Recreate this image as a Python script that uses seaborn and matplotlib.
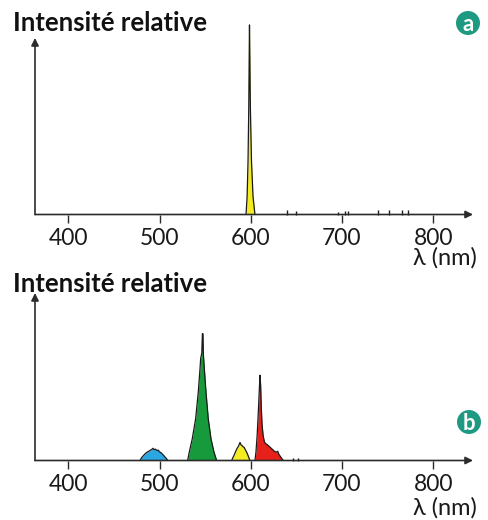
import numpy as np
import pandas as pd
import matplotlib
matplotlib.use("Agg")
import matplotlib.pyplot as plt
from matplotlib.patches import Circle
import seaborn as sns

sns.set_theme(style="white")
plt.rcParams['font.family'] = ['Lato', 'DejaVu Sans']

# ---------------- data ----------------
tick_values = [400, 500, 600, 700, 800]
tick_labels = ["400", "500", "600", "700", "800"]

# spectrum a : single narrow line + weak lines
a_nm = [594.8, 596.0, 597.0, 597.8, 598.3, 598.6, 599.0, 599.6, 600.8, 602.5, 604.6]
a_int = [0.0, 0.10, 0.30, 0.60, 0.90, 1.074, 0.90, 0.60, 0.30, 0.10, 0.0]
a_weak_nm = [639.7, 649.5, 695.6, 703.2, 706.5, 739.4, 751.5, 765.7, 772.3]
a_weak_int = [0.025, 0.018, 0.012, 0.02, 0.02, 0.025, 0.025, 0.025, 0.025]

# spectrum b : four bands
blue_nm = [478.6, 480.5, 482.5, 484.5, 486.5, 488.4, 490.0, 491.5, 492.8, 494.0,
           495.5, 497.0, 498.5, 500.0, 502.0, 504.5, 507.0, 509.2]
blue_int = [0.0, 0.018, 0.030, 0.042, 0.050, 0.056, 0.062, 0.066, 0.073, 0.065,
            0.068, 0.060, 0.062, 0.052, 0.045, 0.030, 0.015, 0.0]

green_nm = [530.8, 532.6, 535.9, 539.6, 542.5, 544.4, 545.1, 546.3, 547.0,
            547.6, 548.0, 548.7, 550.9, 553.4, 556.4, 559.7, 562.6]
green_int = [0.0, 0.05, 0.13, 0.25, 0.41, 0.55, 0.61, 0.64, 0.757,
             0.757, 0.64, 0.58, 0.41, 0.25, 0.13, 0.05, 0.0]

yellow_nm = [579.1, 580.5, 582.0, 583.5, 585.0, 586.5, 588.2, 589.5, 590.4,
             591.5, 592.5, 594.0, 595.5, 597.0, 599.1]
yellow_int = [0.0, 0.018, 0.035, 0.055, 0.072, 0.085, 0.108, 0.092, 0.090,
              0.082, 0.080, 0.065, 0.050, 0.030, 0.0]

red_nm = [604.6, 605.7, 607.0, 608.2, 609.2, 610.1, 610.8, 611.5, 612.3, 613.5, 615.0,
          616.5, 618.0, 620.0, 622.0, 624.0, 626.0, 628.0, 629.5, 631.0, 633.0, 635.6]
red_int = [0.0, 0.05, 0.15, 0.28, 0.40, 0.509, 0.45, 0.32, 0.22, 0.15, 0.11,
           0.10, 0.095, 0.085, 0.075, 0.065, 0.055, 0.05, 0.055, 0.035, 0.02, 0.0]

b_weak_nm = [646.3, 651.7]
b_weak_int = [0.015, 0.012]

# ---------------- style ----------------
W, H = 488, 520
AX = "#2b2b2b"
LINE = "#1a1a1a"
TEAL = "#1f9a82"
XMIN, XMAX = 363.5, 843.6

fig = plt.figure(figsize=(W / 100, H / 100), dpi=100)
fig.patch.set_facecolor("white")


def axes_px(left, right, base, top):
    return fig.add_axes([left / W, (H - base) / H, (right - left) / W, (base - top) / H])


ax_a = axes_px(35, 473, 214.5, 38)
ax_b = axes_px(35, 473, 460.5, 293)


def draw_band(ax, nm, inten, color):
    df = pd.DataFrame({"nm": nm, "I": inten})
    ax.fill_between(df["nm"], 0, df["I"], color=color, lw=0, clip_on=False, zorder=2)
    sns.lineplot(data=df, x="nm", y="I", ax=ax, color=LINE, lw=0.9, sort=False,
                 estimator=None, clip_on=False, zorder=3)


def draw_weak(ax, nm, inten):
    ax.vlines(nm, 0, inten, color=LINE, lw=1.0, clip_on=False, zorder=3)


draw_band(ax_a, a_nm, a_int, "#f4ec22")
draw_weak(ax_a, a_weak_nm, a_weak_int)

draw_band(ax_b, blue_nm, blue_int, "#2aa6e2")
draw_band(ax_b, green_nm, green_int, "#169a3b")
draw_band(ax_b, yellow_nm, yellow_int, "#f4ec22")
draw_band(ax_b, red_nm, red_int, "#e8201a")
draw_weak(ax_b, b_weak_nm, b_weak_int)

arrow_kw = dict(arrowstyle='-|>', color=AX, lw=1.2, mutation_scale=11,
                shrinkA=0, shrinkB=0)

for ax in (ax_a, ax_b):
    ax.set_xlim(XMIN, XMAX)
    ax.set_ylim(0, 1)
    for s in ax.spines.values():
        s.set_visible(False)
    ax.patch.set_visible(False)
    ax.set_xticks(tick_values)
    ax.set_xticklabels(tick_labels)
    ax.set_yticks([])
    ax.set_xlabel("")
    ax.set_ylabel("")
    ax.tick_params(axis='x', bottom=True, direction='out', length=6, width=1.0,
                   color=AX, pad=3.5, labelsize=16.5, labelcolor="#1a1a1a")
    ax.annotate('', xy=(XMAX, 0), xytext=(XMIN, 0), xycoords='data',
                arrowprops=arrow_kw, annotation_clip=False, zorder=4)
    ax.annotate('', xy=(XMIN, 1), xytext=(XMIN, 0), xycoords='data',
                arrowprops=arrow_kw, annotation_clip=False, zorder=4)

# titles and axis labels
for ty, ly in ((23, 258), (284, 508)):
    fig.text(13 / W, 1 - ty / H, "Intensité relative", fontweight='bold',
             fontsize=18.5, va='center', ha='left', color="#111111")
    fig.text(445 / W, 1 - ly / H, "λ (nm)", fontsize=17, va='center',
             ha='center', color="#1a1a1a")

# badges
for letter, cx, cy in (("a", 468, 23), ("b", 469, 422)):
    circ = Circle((cx / 100, (H - cy) / 100), 0.12, transform=fig.dpi_scale_trans,
                  facecolor=TEAL, edgecolor='none')
    fig.add_artist(circ)
    fig.text(cx / W, 1 - (cy + 1) / H, letter, color='white', fontweight='bold',
             fontsize=16, ha='center', va='center')

fig.savefig("out.png", dpi=100, facecolor="white")
